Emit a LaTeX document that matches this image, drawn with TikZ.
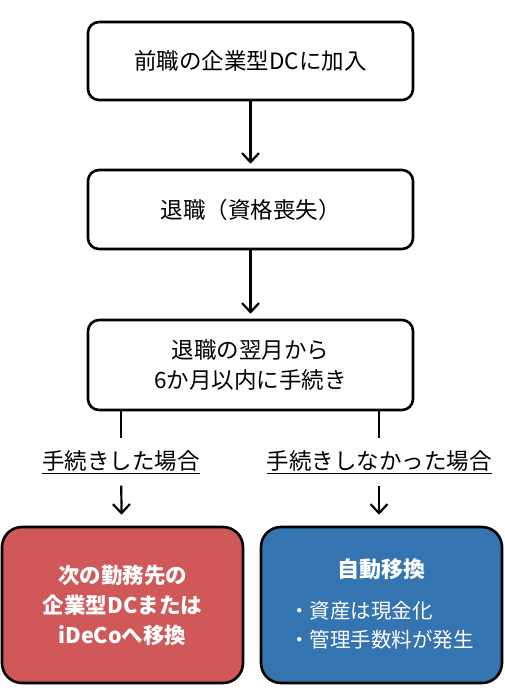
\documentclass[tikz,border=0pt]{standalone}
\usepackage{fontspec}
\setmainfont{Noto Sans CJK JP}
\usetikzlibrary{positioning}
\usetikzlibrary{arrows.meta}
\definecolor{boxred}{RGB}{208,88,88}
\definecolor{boxblue}{RGB}{52,116,176}
\begin{document}
\begin{tikzpicture}[x=1pt, y=-1pt,
			every node/.style={font=\fontsize{22.5}{30}\selectfont},
			stepbox/.style={draw, line width=2.6pt, rounded corners=11pt, minimum width=325pt, align=center},
			endbox/.style={draw, line width=2.6pt, rounded corners=20pt, minimum width=241pt, minimum height=156pt, text=white, align=center},
			case/.style={inner sep=0pt, minimum height=47pt},
			flow/.style={line width=2.2pt, -{Straight Barb[length=9pt, width=17pt, line width=2.2pt]}}]
			\useasboundingbox (0,0) rectangle (504,694);
			\node[stepbox, minimum height=78pt] (join) at (250.5,61) {前職の企業型DCに加入};
			\node[stepbox, minimum height=79pt] (quit) at (250.5,209.5) {退職（資格喪失）};
			\node[stepbox, minimum height=90pt] (limit) at (250.5,365) {退職の翌月から\\6か月以内に手続き};
			\node[case] (done) at (121,462) {\underline{手続きした場合}};
			\node[case] (notdone) at (379,462) {\underline{手続きしなかった場合}};
			\node[endbox, fill=boxred, font=\fontsize{21.5}{30}\selectfont\bfseries] (move) at (122.5,605) {次の勤務先の\\企業型DCまたは\\iDeCoへ移換};
			\node[endbox, fill=boxblue] (auto) at (381.5,605) {};
			\node[text=white, font=\fontsize{22}{28}\selectfont\bfseries] (autotitle) at (381.5,569) {自動移換};
			\node[text=white, align=left, font=\fontsize{20.5}{29}\selectfont, below=15pt of autotitle] (autonote) {・資産は現金化\\・管理手数料が発生};
			\draw[flow, shorten >=5pt] (join) -- (quit);
			\draw[flow, shorten >=5pt] (quit) -- (limit);
			\draw[line width=2.2pt] (limit.south -| done) -- (done.north);
			\draw[line width=2.2pt] (limit.south -| notdone) -- (notdone.north);
			\draw[flow, shorten >=11pt] (done) -- (move);
			\draw[flow, shorten >=11pt] (notdone) -- (auto.north -| notdone);
	\end{tikzpicture}
\end{document}
